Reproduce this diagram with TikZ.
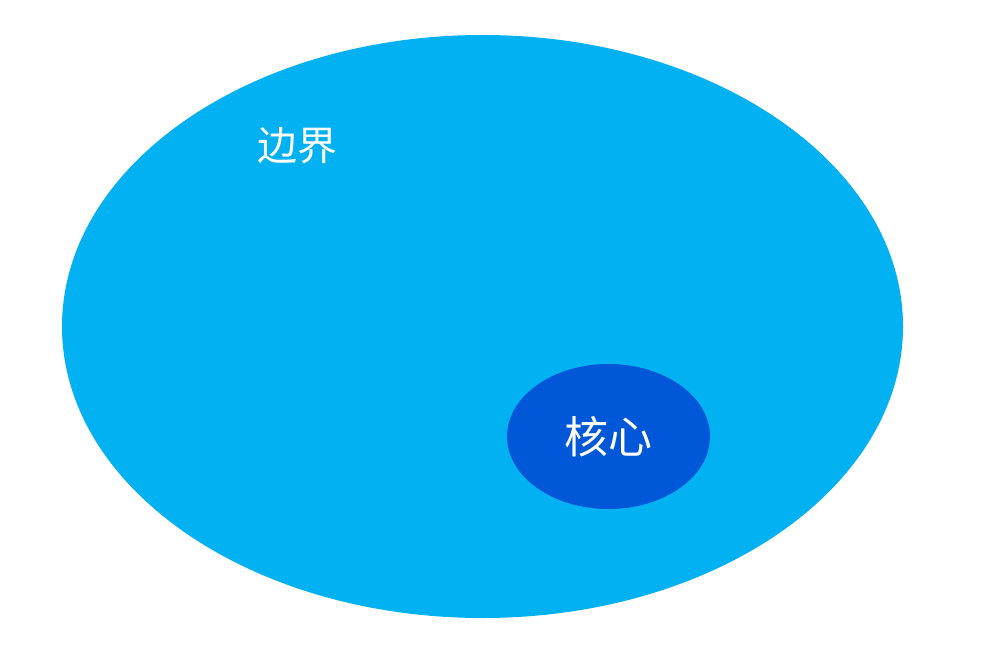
\documentclass[tikz,border=0pt]{standalone}
\usepackage{fontspec}
\newfontfamily\cjk{Noto Sans CJK SC}
\definecolor{outerblue}{HTML}{02B1F1}
\definecolor{innerblue}{HTML}{0057D8}
\tikzset{
  region/.style={draw=none},
  lbl/.style={text=white, font=\cjk\fontsize{#1}{#1}\selectfont, inner sep=0pt}
}
\begin{document}
\begin{tikzpicture}[x=1pt,y=-1pt]
\useasboundingbox (0,0) rectangle (1000,650);
\fill[white] (0,0) rectangle (1000,650);
\fill[outerblue, region] (482.5,326.5) ellipse [x radius=420.5, y radius=291.5];
\fill[innerblue, region] (608.5,436.5) ellipse [x radius=101.5, y radius=72.5];
\node[lbl=40] (boundary) at (297,146) {边界};
\node[lbl=44] (core) at (608,437) {核心};
\end{tikzpicture}
\end{document}
